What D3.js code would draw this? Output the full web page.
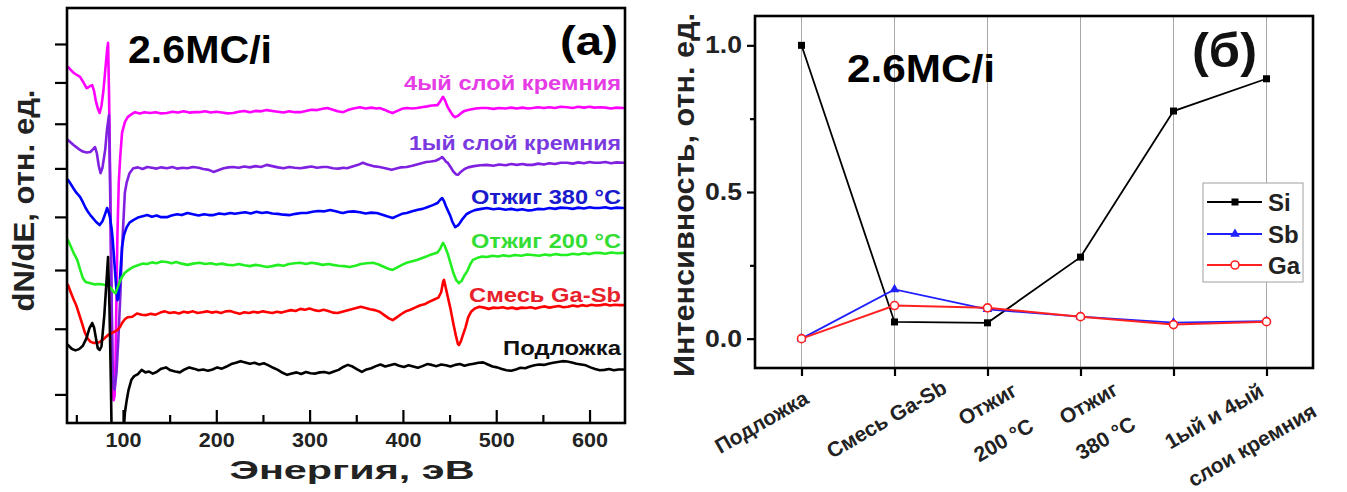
<!DOCTYPE html>
<html><head><meta charset="utf-8">
<script src="https://cdn.jsdelivr.net/npm/d3@7/dist/d3.min.js"></script>
<style>
html,body{margin:0;padding:0;background:#fff;}
svg{display:block;}
text{font-family:"Liberation Sans",Arial,Helvetica,sans-serif;font-weight:bold;}
</style></head><body>
<svg id="chart" width="1347" height="492"></svg>
<script>
// ================= DATA : panel (a) =================
const energyDomain = [40, 638];
const energyMajorTicks = [100, 200, 300, 400, 500, 600];
const energyMinorTicks = [50, 150, 250, 350, 450, 550];
const intensityTicksA = [8, 9, 10, 11, 12, 13, 14, 15];
const spectrumNames = ["Подложка", "Смесь Ga-Sb", "Отжиг 200 °C", "Отжиг 380 °C", "1ый слой кремния", "4ый слой кремния"];

const specSubstrate = [[41,18.8],[45,17.9],[49,17.5],[53,17.8],[57,18.6],[61,20.5],[64,22.8],[67,24.1],[69,23],[71,20.5],[73,18],[75,17.6],[77,18.5],[80,26],[82,33],[84,40],[85.5,28],[87,10],[88,-5],[100,-5],[101,-1],[102,2.4],[104,5.5],[106,8],[109,10.4],[112,11.3],[116,11.8],[120,12.8],[124,12.2],[128,12.4],[132,11.9],[136,12.3],[141,13.1],[146,13.4],[151,12.7],[156,12.4],[161,12.2],[166,12.9],[171,13.4],[176,13.1],[181,12.7],[186,12.9],[191,12.6],[196,12.9],[201,13.4],[206,13.1],[211,13.6],[216,14.2],[221,14.5],[226,14.9],[231,14.6],[236,14.3],[241,14.5],[246,14.1],[251,14.4],[256,13.9],[261,13.3],[266,12.8],[271,12.1],[276,11.6],[281,11.9],[286,12.2],[291,11.8],[296,12.3],[301,12.0],[306,11.9],[311,12.2],[316,12.3],[321,12.0],[326,12.4],[331,12.8],[336,13.5],[341,14.0],[346,13.6],[351,12.9],[356,12.3],[361,12.9],[366,13.2],[371,13.7],[376,14.1],[381,13.6],[386,13.9],[391,14.2],[396,13.8],[401,13.5],[406,13.9],[411,13.6],[416,13.3],[421,13.7],[426,14.2],[431,14.0],[436,13.7],[441,14.1],[446,13.9],[451,13.6],[456,14.0],[461,14.2],[466,13.8],[471,14.1],[476,14.3],[481,14.5],[486,14.6],[491,14.1],[496,13.6],[501,13.4],[506,13.0],[511,12.7],[516,12.6],[521,12.9],[526,13.3],[531,13.2],[536,13.6],[541,13.9],[546,14.1],[551,14.0],[556,14.3],[561,14.5],[566,14.7],[571,14.9],[576,14.8],[581,14.6],[586,14.3],[591,14.1],[596,13.9],[601,13.4],[606,13.0],[611,12.7],[616,12.8],[621,13.0],[626,12.7],[631,12.9],[636,12.9]];

const specGaSb = [[41,33.3],[44,31.5],[47,29.8],[50,28.3],[53,26.2],[56,24.1],[59,21.9],[62,20.4],[65,19.6],[68,19.3],[72,19.3],[75,19.5],[79,20.2],[84,21.2],[89,21.8],[94,22.4],[97,23.2],[99,24.1],[102,25.0],[105,25.5],[110,25.6],[115,26.4],[120,26.1],[125,26.0],[130,26.3],[135,26.1],[140,26.6],[145,26.9],[150,26.5],[155,26.7],[160,26.4],[165,26.8],[170,26.6],[175,26.9],[180,26.5],[185,26.7],[190,26.9],[195,26.6],[200,26.8],[205,26.5],[210,26.9],[215,27.0],[220,26.6],[225,26.3],[230,26.7],[235,26.5],[240,26.8],[245,26.6],[250,26.9],[255,26.7],[260,26.5],[265,26.8],[270,26.6],[275,26.9],[280,27.2],[285,27.0],[290,27.5],[295,27.3],[300,27.6],[305,27.2],[310,27.0],[315,27.3],[320,27.0],[325,26.6],[330,26.5],[335,26.8],[340,27.1],[345,27.4],[350,27.7],[355,28.0],[360,27.7],[365,27.4],[370,27.2],[375,26.8],[380,26.0],[385,25.2],[389,24.8],[393,25.4],[398,26.2],[403,26.9],[408,27.3],[413,27.8],[418,28.3],[423,28.6],[428,29.2],[433,29.7],[438,30.2],[441,31.5],[443,34.0],[444,34.5],[446,32.5],[448,30.5],[451,27.5],[454,24.0],[457,20.8],[459,19.0],[460,18.8],[462,19.6],[464,21.0],[467,23.0],[470,25.5],[473,26.8],[477,27.6],[482,28.0],[487,27.8],[492,27.5],[497,27.8],[502,27.7],[507,27.9],[512,27.6],[517,27.8],[522,27.5],[527,27.8],[532,27.7],[537,27.9],[542,27.6],[547,27.9],[552,28.1],[557,27.8],[562,28.0],[567,28.2],[572,27.9],[577,28.0],[582,28.3],[587,28.1],[592,28.4],[597,28.2],[602,28.5],[607,28.3],[612,28.4],[617,28.6],[622,28.3],[627,28.5],[632,28.4],[636,28.4]];

const specAnneal200 = [[41,44.1],[44,42.6],[47,41.0],[51,39.3],[54,37.0],[57,34.9],[60,34.0],[65,33.7],[70,33.4],[75,33.5],[80,33.3],[84,33.2],[87,32.5],[90,31.6],[92,31.3],[94,32.5],[97,34.3],[99,35.2],[102,36.2],[106,36.9],[111,37.6],[116,38.0],[121,38.4],[126,38.3],[131,38.7],[136,38.5],[141,38.9],[147,38.8],[152,38.5],[157,38.8],[163,38.4],[169,38.1],[175,38.4],[182,38.6],[188,38.3],[194,38.5],[200,38.2],[206,38.4],[212,38.1],[218,38.0],[224,38.3],[230,38.0],[236,37.8],[242,38.1],[248,37.9],[254,37.6],[260,37.8],[266,38.1],[272,37.9],[278,38.3],[284,38.5],[290,38.6],[296,38.3],[302,38.6],[308,38.4],[314,38.1],[320,38.3],[325,38.1],[331,37.9],[337,37.8],[343,37.6],[349,37.9],[355,38.3],[361,38.5],[368,38.6],[374,38.2],[380,37.6],[385,37.1],[389,36.9],[394,37.5],[399,38.1],[404,38.6],[410,39.0],[415,39.3],[420,39.7],[425,40.1],[429,40.5],[433,40.8],[437,41.1],[440,42.0],[442,43.0],[443,43.4],[445,42.6],[448,40.8],[451,38.5],[454,36.2],[457,34.5],[460,33.7],[463,34.3],[466,35.6],[469,36.6],[472,38.2],[475,39.3],[480,39.8],[485,40.1],[490,40.0],[496,40.3],[502,40.1],[508,40.4],[514,40.2],[520,40.5],[527,40.3],[533,40.6],[539,40.5],[546,40.3],[552,40.6],[558,40.4],[564,40.7],[570,40.5],[576,40.5],[582,40.8],[588,40.6],[594,40.9],[600,40.7],[606,41.0],[611,41.0],[617,40.8],[623,41.1],[630,40.9],[636,41.0]];

const specAnneal380 = [[41,58.6],[44,57.6],[47,56.5],[50,55.5],[54,54.5],[57,53.2],[60,51.8],[63,50.7],[65,50.1],[68,49.3],[71,48.5],[75,47.7],[78,48.6],[80,49.8],[83,51.8],[85,50.5],[86,49.6],[88,46.5],[89,44.1],[91,38.0],[93,32.0],[94,29.6],[95,30.0],[96,32.5],[97,35.5],[99,42.4],[101,45.3],[104,47.2],[107,48.3],[111,48.9],[116,49.5],[121,49.8],[126,50.1],[131,49.7],[136,50.0],[141,49.6],[147,49.6],[152,50.0],[158,50.3],[163,50.1],[169,50.6],[175,50.3],[181,50.0],[187,50.3],[192,50.1],[197,50.1],[203,50.5],[209,50.3],[215,50.6],[220,50.4],[225,50.6],[231,50.8],[237,50.5],[243,50.9],[249,50.6],[254,50.8],[260,50.5],[266,50.4],[272,50.2],[279,50.1],[285,50.4],[291,50.6],[297,50.6],[303,50.9],[309,51.1],[316,51.0],[322,51.3],[328,51.0],[333,50.7],[336,50.6],[341,50.9],[347,51.0],[354,50.8],[360,50.5],[366,50.7],[372,50.6],[378,50.2],[383,49.8],[389,49.4],[394,49.9],[399,50.4],[404,50.6],[410,51.0],[416,51.4],[421,51.6],[426,52.0],[432,52.5],[437,53.0],[440,53.8],[442,54.2],[444,53.5],[446,52.3],[448,51.3],[451,49.8],[453,48.5],[456,47.2],[459,47.6],[461,48.2],[464,49.2],[468,50.3],[472,50.8],[477,51.3],[484,51.6],[490,51.8],[497,51.5],[503,51.7],[510,51.4],[516,51.6],[522,51.3],[528,51.5],[534,51.2],[539,51.3],[545,51.6],[551,51.5],[557,51.8],[563,51.6],[569,51.9],[576,51.8],[582,51.6],[588,51.9],[594,51.7],[600,52.0],[605,51.8],[611,51.8],[617,52.0],[623,51.7],[629,51.9],[636,51.8]];

const specSiLayer1 = [[41,68.2],[44,67.6],[47,67.0],[51,66.3],[54,65.8],[57,65.4],[61,65.2],[65,65.3],[68,66.0],[70,66.5],[72,65.0],[74,62.0],[76,60.2],[78,61.5],[81,66.0],[83,71.0],[85,74.2],[86,60],[87.5,35],[89,12],[90,8.5],[91,8.0],[93,12],[95,20],[97,30],[99,42],[101,51],[102,55.5],[104,58.0],[107,60.2],[111,61.4],[116,61.6],[121,61.2],[126,61.7],[131,61.5],[136,61.3],[141,61.6],[147,61.4],[153,61.7],[158,61.3],[164,61.5],[169,61.4],[175,61.7],[181,61.5],[186,61.2],[192,61.0],[197,60.5],[202,60.9],[208,61.4],[213,61.6],[218,61.7],[224,61.5],[230,61.8],[236,61.6],[242,61.9],[248,61.7],[254,62.2],[260,61.9],[266,61.6],[272,61.4],[278,61.7],[284,61.5],[290,61.4],[296,61.6],[302,61.8],[308,61.5],[314,61.7],[319,61.7],[325,61.4],[331,61.3],[336,61.5],[340,61.4],[346,61.8],[352,62.2],[357,62.7],[362,62.3],[368,61.9],[375,61.7],[381,61.4],[388,61.0],[393,61.3],[398,61.6],[404,61.7],[410,62.0],[415,62.3],[420,62.6],[425,62.9],[430,63.0],[435,63.2],[439,63.6],[442,64.1],[444,63.6],[446,63.0],[448,62.7],[451,61.7],[454,60.6],[457,59.9],[459,59.8],[462,60.5],[466,61.2],[470,61.6],[476,61.9],[483,62.1],[490,62.2],[497,62.0],[503,62.3],[510,62.1],[516,62.4],[522,62.2],[528,62.4],[533,62.2],[539,62.2],[545,62.5],[551,62.3],[557,62.6],[563,62.4],[569,62.7],[576,62.7],[582,62.5],[588,62.8],[594,62.6],[600,62.9],[605,62.7],[611,62.7],[617,62.9],[623,62.6],[629,62.8],[636,62.7]];

const specSiLayer4 = [[41,85.8],[44,85.1],[47,84.4],[51,83.8],[54,83.4],[57,82.3],[61,80.7],[63,80.9],[65,81.2],[67,81.4],[69,80.0],[71,77.5],[73,75.8],[75,74.7],[77,76.5],[79,80.0],[81,85.0],[83,90.0],[84,91.6],[85,80],[86.5,55],[88,25],[89,8],[90,5.5],[91,6.5],[92,15],[93,30],[94,45],[95.5,58],[97,64],[99,69.9],[102,72.5],[105,73.7],[109,74.4],[113,74.9],[118,74.6],[123,74.9],[129,74.7],[135,74.9],[141,74.6],[147,74.7],[153,75.0],[159,74.8],[165,75.1],[171,74.8],[177,74.9],[182,74.9],[188,75.1],[194,74.8],[200,75.0],[206,74.8],[212,74.6],[218,74.7],[224,75.0],[230,75.2],[236,74.9],[242,75.2],[248,75.1],[254,75.4],[260,75.2],[266,75.0],[272,74.8],[278,75.1],[284,74.9],[290,74.9],[296,75.2],[302,75.5],[308,75.4],[314,75.7],[319,75.9],[325,75.5],[330,75.1],[336,74.9],[341,75.4],[347,75.8],[354,76.1],[360,75.8],[366,76.0],[372,75.8],[375,75.9],[380,75.5],[385,75.0],[389,74.7],[394,75.2],[399,75.7],[404,75.9],[410,75.8],[415,75.9],[420,76.1],[426,76.3],[431,76.5],[437,76.6],[440,77.5],[442,78.3],[443,78.6],[445,77.8],[448,76.1],[451,75.0],[454,74.0],[456,73.7],[459,74.0],[462,74.6],[466,75.2],[471,75.5],[478,75.8],[484,75.9],[490,75.9],[497,75.7],[503,75.9],[510,75.8],[516,76.0],[522,75.8],[528,76.0],[534,75.8],[539,75.9],[545,76.1],[551,75.9],[557,76.1],[563,75.9],[569,76.2],[576,76.1],[582,75.9],[588,76.2],[594,76.0],[600,76.2],[605,76.0],[611,76.1],[617,76.0],[623,75.8],[629,76.0],[636,75.9]];

const spectra = [specSubstrate, specGaSb, specAnneal200, specAnneal380, specSiLayer1, specSiLayer4];

// ================= DATA : panel (б) =================
const stages = ["Подложка", "Смесь Ga-Sb", "Отжиг 200 °C", "Отжиг 380 °C", "1ый слой кремния", "4ый слой кремния"];
const siValues = [1.0, 0.057, 0.054, 0.278, 0.776, 0.886];
const sbValues = [0.0, 0.168, 0.100, 0.075, 0.055, 0.060];
const gaValues = [0.0, 0.113, 0.105, 0.075, 0.048, 0.058];
const seriesNames = ["Si", "Sb", "Ga"];
const intensityTicksB = [0, 0.5, 1.0];
const intensityMinorB = [0.25, 0.75];
const intensityDomainB = [-0.1, 1.1];
const stageLabelLines = [["Подложка"], ["Смесь Ga-Sb"], ["Отжиг", "200 °C"], ["Отжиг", "380 °C"], ["1ый и 4ый", "слои кремния"]];
const stageLabelAt = [0, 1, 2, 3, 4.5];

// ================= STYLE / LAYOUT =================
const spectrumColors = ["#000000", "#ff0000", "#22ee22", "#0000ff", "#8020e0", "#ff00ff"];
const spectrumLabelColors = ["#111111", "#e8202a", "#33dd33", "#1a1acc", "#7a3ae0", "#e63ce6"];
const spectrumLabelLayout = [
  {y: 355, w: 118}, {y: 302, w: 152}, {y: 248, w: 150}, {y: 204, w: 150}, {y: 150, w: 212}, {y: 90, w: 217}
];
const seriesColors = ["#000000", "#2020ff", "#ff2020"];
// per-line centre offsets of the rotated stage labels (relative to tick, bottom of panel)
const stageLabelOffsets = [
  [[-40, 54]], [[-8, 51]], [[0, 36], [16, 72]], [[8, 35], [25, 70]], [[-6, 48], [32, 77]]
];
const stageLabelAngle = 30; // degrees, counter-clockwise

const svg = d3.select("#chart");
svg.append("rect").attr("width", 1347).attr("height", 492).attr("fill", "#fff");

// ================= PANEL (a) =================
const A = {l: 67, r: 625, t: 8, b: 423};
const xA = d3.scaleLinear().domain(energyDomain).range([A.l, A.r]);
const yA = d3.scaleLinear().domain([0, 100]).range([A.b, A.t]);
const yAticks = d3.scaleLog().domain([7.6, 16]).range([A.b, A.t]);

svg.append("clipPath").attr("id", "clipA").append("rect")
  .attr("x", A.l).attr("y", A.t).attr("width", A.r - A.l).attr("height", A.b - A.t);

const line = d3.line().x(d => xA(d[0])).y(d => yA(d[1])).curve(d3.curveLinear);
const gA = svg.append("g").attr("clip-path", "url(#clipA)");
for (let i = spectra.length - 1; i >= 0; i--) {
  gA.append("path").datum(spectra[i]).attr("d", line)
    .attr("fill", "none").attr("stroke", spectrumColors[i])
    .attr("stroke-width", 2.6).attr("stroke-linejoin", "round").attr("stroke-linecap", "round");
}

// x axis (ticks inward)
const axA = svg.append("g").attr("transform", `translate(0,${A.b})`)
  .call(d3.axisBottom(xA).tickValues(energyMajorTicks).tickSizeInner(-13).tickSizeOuter(0).tickPadding(10).tickFormat(d3.format("d")));
axA.select(".domain").remove();
axA.selectAll(".tick line").attr("stroke", "#000").attr("stroke-width", 2.2);
axA.selectAll(".tick text").attr("font-size", 20).attr("fill", "#222").attr("textLength", 36).attr("lengthAdjust", "spacingAndGlyphs");
const axAm = svg.append("g").attr("transform", `translate(0,${A.b})`)
  .call(d3.axisBottom(xA).tickValues(energyMinorTicks).tickSizeInner(-8).tickSizeOuter(0).tickFormat(""));
axAm.select(".domain").remove();
axAm.selectAll(".tick line").attr("stroke", "#000").attr("stroke-width", 2.2);

// y axis (outward, unlabeled)
const ayA = svg.append("g").attr("transform", `translate(${A.l},0)`)
  .call(d3.axisLeft(yAticks).tickValues(intensityTicksA).tickSizeInner(12).tickSizeOuter(0).tickFormat(""));
ayA.select(".domain").remove();
ayA.selectAll(".tick line").attr("stroke", "#000").attr("stroke-width", 2.2);

svg.append("rect").attr("x", A.l).attr("y", A.t).attr("width", A.r - A.l).attr("height", A.b - A.t)
  .attr("fill", "none").attr("stroke", "#000").attr("stroke-width", 2.6);

// spectrum labels
spectrumNames.forEach((n, i) => {
  svg.append("text").attr("x", A.r - 4).attr("y", spectrumLabelLayout[i].y)
    .attr("text-anchor", "end").attr("font-size", 20).attr("fill", spectrumLabelColors[i])
    .attr("textLength", spectrumLabelLayout[i].w).attr("lengthAdjust", "spacingAndGlyphs").text(n);
});

svg.append("text").attr("x", 128).attr("y", 63).attr("font-size", 38).attr("fill", "#000")
  .attr("textLength", 144).attr("lengthAdjust", "spacingAndGlyphs").text("2.6MC/i");
svg.append("text").attr("x", 560).attr("y", 55).attr("font-size", 41).attr("fill", "#000")
  .attr("textLength", 58).attr("lengthAdjust", "spacingAndGlyphs").text("(a)");

svg.append("text").attr("x", (A.l + A.r) / 2 + 6).attr("y", 479).attr("text-anchor", "middle")
  .attr("font-size", 26).attr("fill", "#222").attr("textLength", 245).attr("lengthAdjust", "spacingAndGlyphs").text("Энергия, эВ");
svg.append("text").attr("transform", `translate(34,${(A.t + A.b) / 2 - 15}) rotate(-90)`).attr("text-anchor", "middle")
  .attr("font-size", 29).attr("fill", "#222").attr("textLength", 222).attr("lengthAdjust", "spacingAndGlyphs").text("dN/dE, отн. ед.");

// ================= PANEL (б) =================
const B = {l: 755, r: 1313, t: 16, b: 368};
const xB = d3.scaleLinear().domain([-0.5, stages.length - 0.5]).range([B.l, B.r]);
const yB = d3.scaleLinear().domain(intensityDomainB).range([B.b, B.t]);

// grid
svg.append("g").selectAll("line").data(stages).join("line")
  .attr("x1", (d, i) => xB(i)).attr("x2", (d, i) => xB(i)).attr("y1", B.t).attr("y2", B.b)
  .attr("stroke", "#a8a8a8").attr("stroke-width", 1);

const seriesValues = [siValues, sbValues, gaValues];
const lineB = d3.line().x((d, i) => xB(i)).y(d => yB(d));
seriesValues.forEach((vals, s) => {
  svg.append("path").datum(vals).attr("d", lineB).attr("fill", "none")
    .attr("stroke", seriesColors[s]).attr("stroke-width", s === 2 ? 2 : 1.8);
});
function marker(g, s, x, y) {
  if (s === 0) g.append("rect").attr("x", x - 3.5).attr("y", y - 3.5).attr("width", 7).attr("height", 7).attr("fill", "#000");
  else if (s === 1) g.append("path").attr("d", d3.symbol(d3.symbolTriangle, 40)()).attr("transform", `translate(${x},${y})`).attr("fill", seriesColors[1]);
  else g.append("circle").attr("cx", x).attr("cy", y).attr("r", 4).attr("fill", "#fff").attr("stroke", seriesColors[2]).attr("stroke-width", 1.6);
}
const gM = svg.append("g");
seriesValues.forEach((vals, s) => vals.forEach((v, i) => marker(gM, s, xB(i), yB(v))));

// axes
const ayB = svg.append("g").attr("transform", `translate(${B.l},0)`)
  .call(d3.axisLeft(yB).tickValues(intensityTicksB).tickSizeInner(8).tickSizeOuter(0).tickPadding(5).tickFormat(d3.format(".1f")));
ayB.select(".domain").remove();
ayB.selectAll(".tick line").attr("stroke", "#000").attr("stroke-width", 2.2);
ayB.selectAll(".tick text").attr("font-size", 23).attr("fill", "#222").attr("textLength", 37).attr("lengthAdjust", "spacingAndGlyphs");
const ayBm = svg.append("g").attr("transform", `translate(${B.l},0)`)
  .call(d3.axisLeft(yB).tickValues(intensityMinorB).tickSizeInner(5).tickSizeOuter(0).tickFormat(""));
ayBm.select(".domain").remove();
ayBm.selectAll(".tick line").attr("stroke", "#000").attr("stroke-width", 2.2);
const axB = svg.append("g").attr("transform", `translate(0,${B.b})`)
  .call(d3.axisBottom(xB).tickValues(d3.range(stages.length)).tickSizeInner(8).tickSizeOuter(0).tickFormat(""));
axB.select(".domain").remove();
axB.selectAll(".tick line").attr("stroke", "#000").attr("stroke-width", 2.2);

svg.append("rect").attr("x", B.l).attr("y", B.t).attr("width", B.r - B.l).attr("height", B.b - B.t)
  .attr("fill", "none").attr("stroke", "#000").attr("stroke-width", 2.6);

// stage labels (rotated with a CSS transform)
stageLabelLines.forEach((lines, k) => {
  lines.forEach((t, j) => {
    const o = stageLabelOffsets[k][j];
    const cx = xB(stageLabelAt[k]) + o[0];
    const cy = B.b + o[1];
    svg.append("text").attr("x", 0).attr("y", 0)
      .style("transform", `translate(${cx.toFixed(1)}px, ${cy.toFixed(1)}px) rotate(-${stageLabelAngle}deg)`)
      .attr("text-anchor", "middle").attr("dy", "0.35em")
      .attr("font-size", 21).attr("fill", "#222").text(t);
  });
});

// legend
const L = {x: B.r - 110, y: 183, w: 100, h: 99};
svg.append("rect").attr("x", L.x).attr("y", L.y).attr("width", L.w).attr("height", L.h)
  .attr("fill", "#fff").attr("stroke", "#a0a0a0").attr("stroke-width", 1);
const legY = [L.y + 19, L.y + 51, L.y + 82];
seriesNames.forEach((n, s) => {
  svg.append("line").attr("x1", L.x + 4).attr("x2", L.x + 59).attr("y1", legY[s]).attr("y2", legY[s])
    .attr("stroke", seriesColors[s]).attr("stroke-width", s === 2 ? 2 : 1.8);
  marker(svg, s, L.x + 32, legY[s]);
  svg.append("text").attr("x", L.x + 65).attr("y", legY[s]).attr("dy", "0.36em")
    .attr("font-size", 24).attr("fill", "#222").text(n);
});

svg.append("text").attr("x", 847).attr("y", 82).attr("font-size", 38).attr("fill", "#000")
  .attr("textLength", 148).attr("lengthAdjust", "spacingAndGlyphs").text("2.6MC/i");
svg.append("text").attr("x", 1192).attr("y", 67).attr("font-size", 48).attr("fill", "#111")
  .attr("textLength", 65).attr("lengthAdjust", "spacingAndGlyphs").text("(б)");
svg.append("text").attr("transform", `translate(694,${195}) rotate(-90)`).attr("text-anchor", "middle")
  .attr("font-size", 29).attr("fill", "#222").attr("textLength", 364).attr("lengthAdjust", "spacingAndGlyphs").text("Интенсивность, отн. ед.");
</script>
</body></html>
